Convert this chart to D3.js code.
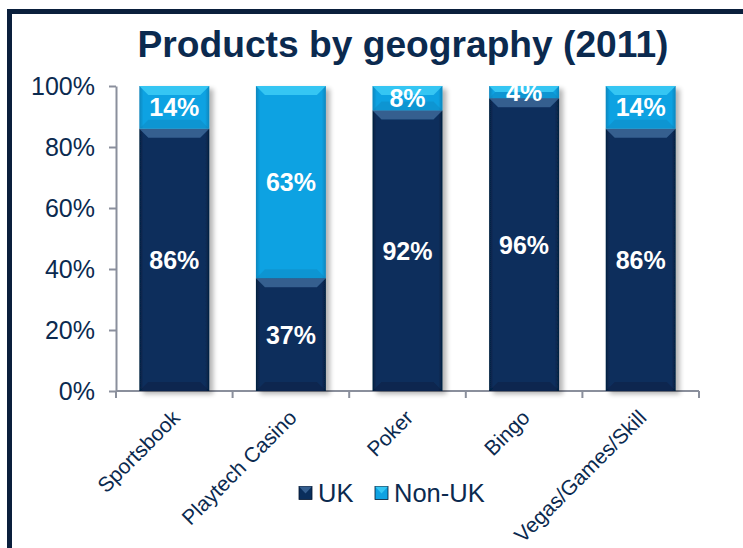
<!DOCTYPE html>
<html>
<head>
<meta charset="utf-8">
<script src="https://cdn.jsdelivr.net/npm/d3@7"></script>
<style>
  html, body { margin: 0; padding: 0; background: #fff; }
  svg { display: block; font-family: Arial, "Liberation Sans", sans-serif; }
</style>
</head>
<body>
<svg id="chart" width="743" height="548"></svg>
<script>
// Product categories and their geographic split (percent)
const categories = ["Sportsbook", "Playtech Casino", "Poker", "Bingo", "Vegas/Games/Skill"];
const ukShare    = [86, 37, 92, 96, 86];
const nonUkShare = [14, 63, 8, 4, 14];
const seriesNames = ["UK", "Non-UK"];
const yTicks = [0, 20, 40, 60, 80, 100];

const navy = "#0b2a4f";
const ukColor = "#0a2e5c";
const nonUkColor = "#0fa2e2";

const svg = d3.select("#chart");
const defs = svg.append("defs");

// Soft drop shadow behind each bar
const shadow = defs.append("filter").attr("id", "barShadow")
  .attr("x", "-20%").attr("y", "-5%").attr("width", "150%").attr("height", "115%");
shadow.append("feGaussianBlur").attr("in", "SourceAlpha").attr("stdDeviation", 2.5);
shadow.append("feOffset").attr("dx", 4).attr("dy", 3).attr("result", "ob");
shadow.append("feComponentTransfer").append("feFuncA").attr("type", "linear").attr("slope", 0.3);
const merge = shadow.append("feMerge");
merge.append("feMergeNode");
merge.append("feMergeNode").attr("in", "SourceGraphic");

// Horizontal gradients give the bars a slight rounded look
function hGrad(id, edge, mid) {
  const g = defs.append("linearGradient").attr("id", id).attr("x1", 0).attr("x2", 1).attr("y1", 0).attr("y2", 0);
  g.append("stop").attr("offset", "0%").attr("stop-color", edge);
  g.append("stop").attr("offset", "6%").attr("stop-color", mid);
  g.append("stop").attr("offset", "94%").attr("stop-color", mid);
  g.append("stop").attr("offset", "100%").attr("stop-color", edge);
}
hGrad("gUK", "#05203f", ukColor);
hGrad("gNon", "#0a86bd", nonUkColor);

// Outer frame
svg.append("path")
  .attr("d", "M9.5,760 L9.5,11.5 L760,11.5")
  .attr("fill", "none").attr("stroke", "#0a1f3c").attr("stroke-width", 5);

// Title
svg.append("text")
  .attr("x", 403).attr("y", 57)
  .attr("text-anchor", "middle")
  .attr("font-size", 37).attr("font-weight", "bold")
  .attr("fill", navy)
  .attr("textLength", 531).attr("lengthAdjust", "spacingAndGlyphs")
  .text("Products by geography (2011)");

const x = d3.scaleBand().domain(categories).range([116, 699]).paddingInner(0.4).paddingOuter(0.2);
const y = d3.scaleLinear().domain([0, 100]).range([391, 86]);

// Axes
const yAxis = svg.append("g").attr("transform", "translate(116,0)")
  .call(d3.axisLeft(y).tickValues(yTicks).tickFormat(d => d + "%").tickSize(7).tickSizeOuter(0));
yAxis.select(".domain").attr("stroke", "#8a8f9c").attr("stroke-width", 2);
yAxis.selectAll(".tick line").attr("stroke", "#8a8f9c").attr("stroke-width", 2);
yAxis.selectAll(".tick text").attr("font-size", 25).attr("fill", navy).attr("x", -21)
  .attr("font-family", "Arial, 'Liberation Sans', sans-serif");

// Category axis: ticks fall on the boundaries between categories
const xAxisG = svg.append("g").attr("transform", "translate(0,391)");
xAxisG.append("line").attr("x1", 116).attr("x2", 699).attr("y1", 0).attr("y2", 0)
  .attr("stroke", "#8a8f9c").attr("stroke-width", 2);
const bounds = d3.range(categories.length + 1).map(i => 116 + i * (583 / categories.length));
xAxisG.selectAll("line.bnd").data(bounds).join("line").attr("class", "bnd")
  .attr("x1", d => d).attr("x2", d => d).attr("y1", 0).attr("y2", 7)
  .attr("stroke", "#8a8f9c").attr("stroke-width", 2);

xAxisG.selectAll("text.cat").data(categories).join("text").attr("class", "cat")
  .attr("transform", d => `translate(${x(d) + x.bandwidth() / 2 + 7},${28}) rotate(-45)`)
  .attr("text-anchor", "end")
  .attr("font-size", 21).attr("fill", navy)
  .text(d => d);

// Stacked data
const rows = categories.map((c, i) => ({ cat: c, UK: ukShare[i], "Non-UK": nonUkShare[i] }));
const stacked = d3.stack().keys(seriesNames)(rows);

const fills = { "UK": "url(#gUK)", "Non-UK": "url(#gNon)" };
const bevelTop = { "UK": "#3f6a9c", "Non-UK": "#3fd0f7" };
const bevelBot = { "UK": "#051a36", "Non-UK": "#0a7fb4" };

const barG = svg.append("g");
categories.forEach((c, i) => {
  const g = barG.append("g").attr("filter", "url(#barShadow)");
  const bx = x(c), bw = x.bandwidth();
  stacked.forEach(s => {
    const d = s[i];
    const y0 = y(d[1]), y1 = y(d[0]);
    const h = y1 - y0;
    g.append("rect").attr("x", bx).attr("y", y0).attr("width", bw).attr("height", h)
      .attr("fill", fills[s.key]);
    const bv = Math.min(9, h / 2);
    // bevelled top edge
    g.append("path")
      .attr("d", `M${bx},${y0} L${bx + bw},${y0} L${bx + bw - bv},${y0 + bv} L${bx + bv},${y0 + bv} Z`)
      .attr("fill", bevelTop[s.key]).attr("opacity", 0.8);
    // bevelled bottom edge
    g.append("path")
      .attr("d", `M${bx},${y1} L${bx + bw},${y1} L${bx + bw - bv},${y1 - bv} L${bx + bv},${y1 - bv} Z`)
      .attr("fill", bevelBot[s.key]).attr("opacity", 0.35);
  });
});

// Value labels centred in each segment
stacked.forEach(s => {
  barG.selectAll(null).data(s).join("text")
    .attr("x", (d, i) => x(categories[i]) + x.bandwidth() / 2)
    .attr("y", d => (y(d[0]) + y(d[1])) / 2)
    .attr("dy", "0.36em")
    .attr("text-anchor", "middle")
    .attr("font-size", 25).attr("font-weight", "bold").attr("fill", "#fff")
    .text(d => (d[1] - d[0]) + "%");
});

// Legend
const legend = svg.append("g").attr("transform", "translate(299,493)");
const legendItems = [
  { key: "UK", x: 0, fill: ukColor, top: "#3f6a9c" },
  { key: "Non-UK", x: 76, fill: nonUkColor, top: "#3fd0f7" }
];
legendItems.forEach(it => {
  const g = legend.append("g").attr("transform", `translate(${it.x},0)`);
  g.append("rect").attr("x", 0).attr("y", -6.5).attr("width", 13).attr("height", 13)
    .attr("fill", it.fill).attr("stroke", "#04162e").attr("stroke-width", 0.8);
  g.append("path").attr("d", "M0,-6.5 L13,-6.5 L6.5,0.5 Z").attr("fill", it.top).attr("opacity", 0.8);
  g.append("text").attr("x", 19).attr("y", 0).attr("dy", "0.36em")
    .attr("font-size", 25.5).attr("fill", navy).text(it.key);
});
</script>
</body>
</html>
